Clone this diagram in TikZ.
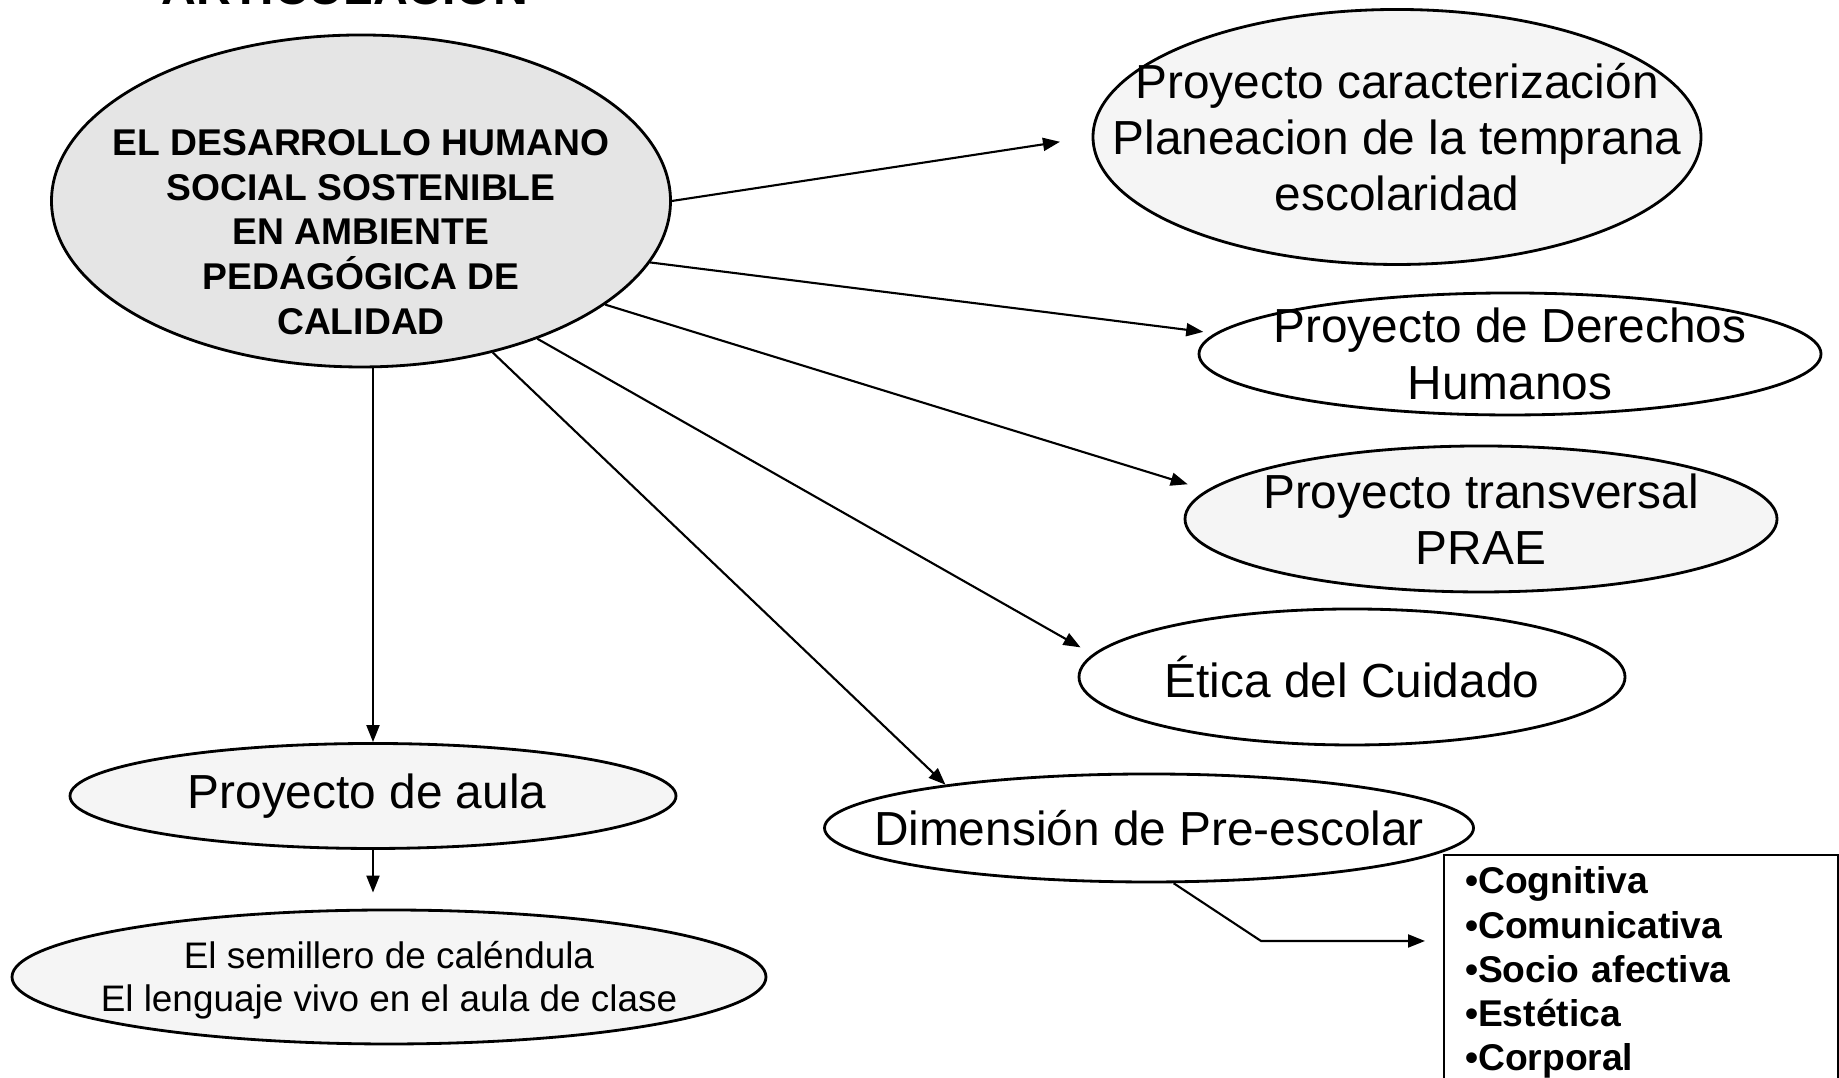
\documentclass[tikz,border=0pt]{standalone}
\usepackage{fontspec}
\setmainfont{Liberation Sans}
\usetikzlibrary{shapes.geometric,arrows.meta}

\tikzset{
	bubble/.style={ellipse, draw, line width=0.8pt, inner sep=0pt},
	bigtext/.style={font=\fontsize{13.6}{16}\selectfont, align=center},
	smalltext/.style={font=\fontsize{10.5}{12.3}\selectfont, align=center},
	boldtext/.style={font=\bfseries\fontsize{10.6}{12.7}\selectfont, align=center},
	listbox/.style={draw, line width=0.6pt, minimum width=3.94cm, minimum height=2.23cm,
		text width=3.52cm, inner xsep=2.1mm, align=left,
		font=\bfseries\fontsize{10.6}{12.6}\selectfont}
}

\begin{document}
\begin{tikzpicture}[>={Triangle[length=1.7mm,width=1.3mm]}, line width=0.6pt]
	\useasboundingbox (0,0) rectangle (18.39,10.78);

	% Title (cut off at the top)
	\node[anchor=base, font=\bfseries\fontsize{13.7}{16}\selectfont] (title) at (3.45,10.73) {ARTICULACIÓN};

	% Central idea
	\node[bubble, fill=black!10, minimum width=6.19cm, minimum height=3.32cm,
		label={[boldtext, yshift=-3.1mm]center:EL DESARROLLO HUMANO\\SOCIAL SOSTENIBLE\\EN AMBIENTE\\PEDAGÓGICA DE\\CALIDAD}] (main) at (3.61,8.77) {};

	% Projects on the right
	\node[bubble, fill=black!4, minimum width=6.08cm, minimum height=2.55cm,
		label={[bigtext]center:Proyecto caracterización\\Planeacion de la temprana\\escolaridad}] (car) at (13.97,9.41) {};
	\node[bubble, minimum width=6.22cm, minimum height=1.22cm,
		label={[bigtext]center:Proyecto de Derechos\\Humanos}] (der) at (15.10,7.24) {};
	\node[bubble, fill=black!4, minimum width=5.92cm, minimum height=1.46cm,
		label={[bigtext]center:Proyecto transversal\\PRAE}] (tra) at (14.81,5.59) {};
	\node[bubble, minimum width=5.46cm, minimum height=1.36cm,
		label={[bigtext]center:Ética del Cuidado}] (eti) at (13.52,4.01) {};
	\node[bubble, minimum width=6.49cm, minimum height=1.08cm,
		label={[bigtext]center:Dimensión de Pre-escolar}] (dim) at (11.49,2.50) {};

	% Classroom branch
	\node[bubble, fill=black!4, minimum width=6.06cm, minimum height=1.05cm,
		label={[bigtext, xshift=-0.6mm]center:Proyecto de aula}] (aula) at (3.73,2.82) {};
	\node[bubble, fill=black!4, minimum width=7.54cm, minimum height=1.34cm,
		label={[smalltext, yshift=-0.3mm]center:El semillero de caléndula\\El lenguaje vivo en el aula de clase}] (sem) at (3.89,1.01) {};

	% Dimensions list
	\node[listbox, anchor=north west] (dims) at (14.43,2.24) {•Cognitiva\\•Comunicativa\\•Socio afectiva\\•Estética\\•Corporal};

	% Arrows from the central idea
	\draw[->, shorten >=3.2mm] (main.0) -- (car.west);
	\draw[->, shorten >=1.2mm] (main.-12) -- (der.176.7);
	\draw[->, shorten >=2mm] (main.-23.3) -- (tra.174.6);
	\draw[->, shorten >=1.4mm] (main.-38.5) -- (eti.175.6);
	\draw[->] (main.-49.2) -- (dim.168.6);
	\draw[->] (main.south -| aula.north) -- (aula.north);
	\draw[->, shorten >=1.6mm] (aula.south) -- (aula.south |- sem.north);

	% Elbow to the list
	\coordinate (bend) at (12.61,1.37);
	\draw[->, shorten >=1.8mm] (dim.-66) -- (bend) -- (bend -| dims.west);

\end{tikzpicture}
\end{document}
